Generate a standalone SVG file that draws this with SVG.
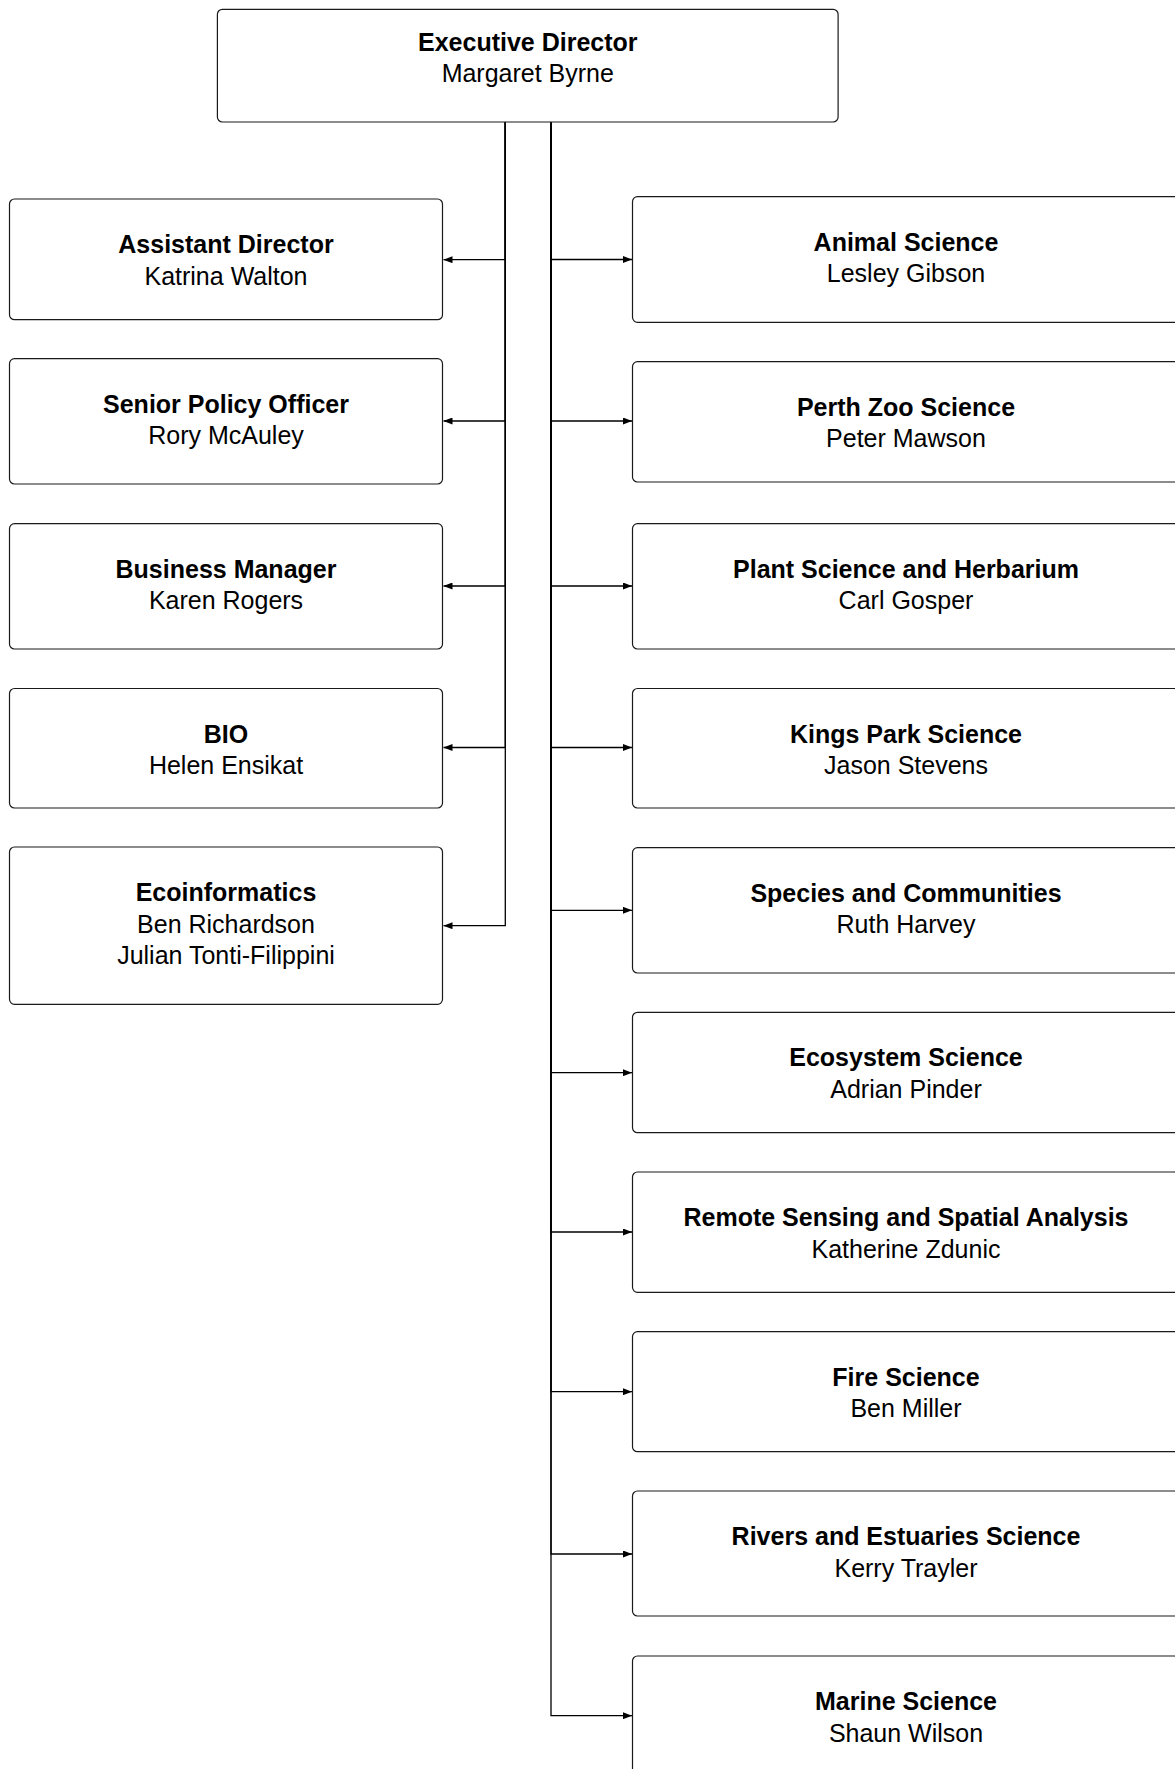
<svg xmlns="http://www.w3.org/2000/svg" width="1175" height="1769" viewBox="0 0 1175 1769">
<style>
.box{fill:#fff;stroke:#1a1a1a;stroke-width:1.2}
.t{font-family:"Liberation Sans",Arial,Helvetica,sans-serif;font-size:25px;fill:#000;text-anchor:middle}
.b{font-weight:bold}
.e{fill:none;stroke:#000;stroke-width:1.3}
</style>
<defs>
<marker id="arr" markerUnits="userSpaceOnUse" viewBox="0 0 9 7" refX="9" refY="3.5" markerWidth="9" markerHeight="7" orient="auto">
<path d="M0,0 L9,3.5 L0,7 Z" fill="#000"/>
</marker>
</defs>
<rect width="1175" height="1769" fill="#fff"/>
<g id="connectors">
<path class="e" marker-end="url(#arr)" d="M505.3,122 V259.7 H443.5"/>
<path class="e" marker-end="url(#arr)" d="M505.3,122 V421 H443.5"/>
<path class="e" marker-end="url(#arr)" d="M505.3,122 V586 H443.5"/>
<path class="e" marker-end="url(#arr)" d="M505.3,122 V747.5 H443.5"/>
<path class="e" marker-end="url(#arr)" d="M505.3,122 V925.7 H443.5"/>
<path class="e" marker-end="url(#arr)" d="M551,122 V259.5 H632"/>
<path class="e" marker-end="url(#arr)" d="M551,122 V421 H632"/>
<path class="e" marker-end="url(#arr)" d="M551,122 V586 H632"/>
<path class="e" marker-end="url(#arr)" d="M551,122 V747.5 H632"/>
<path class="e" marker-end="url(#arr)" d="M551,122 V910.3 H632"/>
<path class="e" marker-end="url(#arr)" d="M551,122 V1072.7 H632"/>
<path class="e" marker-end="url(#arr)" d="M551,122 V1232 H632"/>
<path class="e" marker-end="url(#arr)" d="M551,122 V1391.7 H632"/>
<path class="e" marker-end="url(#arr)" d="M551,122 V1554 H632"/>
<path class="e" marker-end="url(#arr)" d="M551,122 V1715.7 H632"/>
</g>
<g id="exec">
<rect class="box" x="217.4" y="9.3" width="620.7" height="112.7" rx="5"/>
<text class="t b" x="527.8" y="50.8">Executive Director</text>
<text class="t" x="527.8" y="82.4">Margaret Byrne</text>
</g>
<g id="assistant-director">
<rect class="box" x="9.5" y="199" width="433" height="120.7" rx="5"/>
<text class="t b" x="226" y="253">Assistant Director</text>
<text class="t" x="226" y="284.6">Katrina Walton</text>
</g>
<g id="senior-policy-officer">
<rect class="box" x="9.5" y="358.7" width="433" height="125.3" rx="5"/>
<text class="t b" x="226" y="412.7">Senior Policy Officer</text>
<text class="t" x="226" y="444.3">Rory McAuley</text>
</g>
<g id="business-manager">
<rect class="box" x="9.5" y="523.7" width="433" height="125.3" rx="5"/>
<text class="t b" x="226" y="577.7">Business Manager</text>
<text class="t" x="226" y="609.3">Karen Rogers</text>
</g>
<g id="bio">
<rect class="box" x="9.5" y="688.5" width="433" height="119.5" rx="5"/>
<text class="t b" x="226" y="742.5">BIO</text>
<text class="t" x="226" y="774.1">Helen Ensikat</text>
</g>
<g id="ecoinformatics">
<rect class="box" x="9.5" y="847" width="433" height="157.3" rx="5"/>
<text class="t b" x="226" y="901">Ecoinformatics</text>
<text class="t" x="226" y="932.6">Ben Richardson</text>
<text class="t" x="226" y="964.2">Julian Tonti-Filippini</text>
</g>
<g id="animal-science">
<rect class="box" x="632.5" y="196.7" width="547" height="125.6" rx="5"/>
<text class="t b" x="906" y="250.7">Animal Science</text>
<text class="t" x="906" y="282.3">Lesley Gibson</text>
</g>
<g id="perth-zoo-science">
<rect class="box" x="632.5" y="361.7" width="547" height="120.3" rx="5"/>
<text class="t b" x="906" y="415.7">Perth Zoo Science</text>
<text class="t" x="906" y="447.3">Peter Mawson</text>
</g>
<g id="plant-science">
<rect class="box" x="632.5" y="523.7" width="547" height="125.3" rx="5"/>
<text class="t b" x="906" y="577.7">Plant Science and Herbarium</text>
<text class="t" x="906" y="609.3">Carl Gosper</text>
</g>
<g id="kings-park-science">
<rect class="box" x="632.5" y="688.5" width="547" height="119.5" rx="5"/>
<text class="t b" x="906" y="742.5">Kings Park Science</text>
<text class="t" x="906" y="774.1">Jason Stevens</text>
</g>
<g id="species-communities">
<rect class="box" x="632.5" y="847.7" width="547" height="125.3" rx="5"/>
<text class="t b" x="906" y="901.7">Species and Communities</text>
<text class="t" x="906" y="933.3">Ruth Harvey</text>
</g>
<g id="ecosystem-science">
<rect class="box" x="632.5" y="1012.3" width="547" height="120.4" rx="5"/>
<text class="t b" x="906" y="1066.3">Ecosystem Science</text>
<text class="t" x="906" y="1097.9">Adrian Pinder</text>
</g>
<g id="remote-sensing">
<rect class="box" x="632.5" y="1172" width="547" height="120.3" rx="5"/>
<text class="t b" x="906" y="1226">Remote Sensing and Spatial Analysis</text>
<text class="t" x="906" y="1257.6">Katherine Zdunic</text>
</g>
<g id="fire-science">
<rect class="box" x="632.5" y="1331.7" width="547" height="120" rx="5"/>
<text class="t b" x="906" y="1385.7">Fire Science</text>
<text class="t" x="906" y="1417.3">Ben Miller</text>
</g>
<g id="rivers-estuaries">
<rect class="box" x="632.5" y="1491" width="547" height="125" rx="5"/>
<text class="t b" x="906" y="1545">Rivers and Estuaries Science</text>
<text class="t" x="906" y="1576.6">Kerry Trayler</text>
</g>
<g id="marine-science">
<rect class="box" x="632.5" y="1656" width="547" height="120" rx="5"/>
<text class="t b" x="906" y="1710">Marine Science</text>
<text class="t" x="906" y="1741.6">Shaun Wilson</text>
</g>
</svg>
